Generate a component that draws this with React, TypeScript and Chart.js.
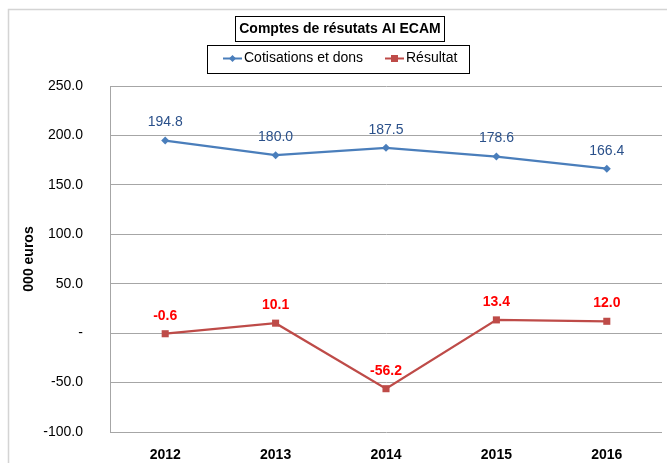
import React, { useEffect, useRef } from "react";
import { Chart, registerables } from "chart.js";

Chart.register(...registerables);

const categories = ["2012", "2013", "2014", "2015", "2016"];
const cotisations = [194.8, 180.0, 187.5, 178.6, 166.4];
const resultat = [-0.6, 10.1, -56.2, 13.4, 12.0];
const chartTitle = "Comptes de résutats AI ECAM";
const yAxisTitle = "000 euros";
const seriesNames = ["Cotisations et dons", "Résultat"];

const BLUE = "#4A7EBB";
const RED = "#BE4B48";
const FONT = "'Liberation Sans', Arial, sans-serif";

const decorPlugin = {
  id: "decor",
  afterDraw(chart: any) {
    const ctx = chart.ctx;
    ctx.save();
    // outer chart border
    ctx.strokeStyle = "#D4D4D4";
    ctx.lineWidth = 1.5;
    ctx.beginPath();
    ctx.moveTo(8.5, 470);
    ctx.lineTo(8.5, 9.5);
    ctx.lineTo(680, 9.5);
    ctx.stroke();

    // title with box
    ctx.font = `bold 14px ${FONT}`;
    ctx.fillStyle = "#000";
    ctx.textAlign = "center";
    ctx.textBaseline = "middle";
    const tcx = 340;
    const tw = ctx.measureText(chartTitle).width;
    ctx.fillText(chartTitle, tcx, 29);
    ctx.strokeStyle = "#000";
    ctx.lineWidth = 1;
    ctx.strokeRect(Math.round(tcx - tw / 2 - 4) + 0.5, 16.5, Math.round(tw + 8), 25);

    // legend with box
    ctx.strokeRect(207.5, 45.5, 262, 28);
    ctx.font = `14px ${FONT}`;
    ctx.textAlign = "left";
    const items = [
      { name: seriesNames[0], color: BLUE, style: "diamond", x: 223 },
      { name: seriesNames[1], color: RED, style: "square", x: 385 },
    ];
    items.forEach((it) => {
      const y = 58.5;
      ctx.strokeStyle = it.color;
      ctx.lineWidth = 2;
      ctx.beginPath();
      ctx.moveTo(it.x, y);
      ctx.lineTo(it.x + 19, y);
      ctx.stroke();
      ctx.fillStyle = it.color;
      const cx = it.x + 9.5;
      if (it.style === "diamond") {
        ctx.beginPath();
        ctx.moveTo(cx, y - 3.5);
        ctx.lineTo(cx + 3.5, y);
        ctx.lineTo(cx, y + 3.5);
        ctx.lineTo(cx - 3.5, y);
        ctx.closePath();
        ctx.fill();
      } else {
        ctx.fillRect(cx - 3.5, y - 3.5, 7, 7);
      }
      ctx.fillStyle = "#000";
      ctx.fillText(it.name, it.x + 21, y);
    });

    // data labels
    const cfg = [
      { idx: 0, color: "#2A508A", bold: false },
      { idx: 1, color: "#FF0000", bold: true },
    ];
    cfg.forEach((c) => {
      const meta = chart.getDatasetMeta(c.idx);
      const data = chart.data.datasets[c.idx].data as number[];
      ctx.font = `${c.bold ? "bold " : ""}14px ${FONT}`;
      ctx.fillStyle = c.color;
      ctx.textAlign = "center";
      ctx.textBaseline = "middle";
      meta.data.forEach((pt: any, i: number) => {
        ctx.fillText(data[i].toFixed(1), pt.x, pt.y - 18);
      });
    });
    ctx.restore();
  },
};

export default function App() {
  const ref = useRef<HTMLCanvasElement>(null);
  useEffect(() => {
    if (!ref.current) return;
    const chart = new Chart(ref.current, {
      type: "line",
      data: {
        labels: categories,
        datasets: [
          {
            label: seriesNames[0],
            data: cotisations,
            borderColor: BLUE,
            backgroundColor: BLUE,
            borderWidth: 2.25,
            pointStyle: "rectRot",
            pointRadius: 4,
            pointBorderWidth: 0,
            tension: 0,
          },
          {
            label: seriesNames[1],
            data: resultat,
            borderColor: RED,
            backgroundColor: RED,
            borderWidth: 2.25,
            pointStyle: "rect",
            pointRadius: 5,
            pointBorderWidth: 0,
            tension: 0,
          },
        ],
      },
      plugins: [decorPlugin],
      options: {
        animation: false,
        responsive: false,
        maintainAspectRatio: false,
        layout: { padding: { top: 86, right: 5, left: 0, bottom: 0 } },
        plugins: {
          legend: { display: false },
          title: { display: false },
          tooltip: { enabled: false },
        },
        scales: {
          x: {
            offset: true,
            grid: { display: false, drawTicks: false },
            border: { display: false },
            ticks: {
              padding: 15,
              color: "#000",
              font: { family: FONT, size: 14, weight: "bold" },
            },
            afterFit: (s: any) => {
              s.height = 31;
              s.paddingLeft = 0;
              s.paddingRight = 0;
            },
          },
          y: {
            min: -100,
            max: 250,
            grid: { color: "#A6A6A6", lineWidth: 1, drawTicks: false },
            border: { display: true, color: "#A6A6A6", width: 1 },
            ticks: {
              stepSize: 50,
              padding: 27,
              color: "#000",
              font: { family: FONT, size: 14 },
              callback: (v: any) => (Number(v) === 0 ? "-" : Number(v).toFixed(1)),
            },
            title: {
              display: true,
              text: yAxisTitle,
              color: "#000",
              font: { family: FONT, size: 14, weight: "bold" },
              padding: { top: 21, bottom: 0 },
            },
            afterFit: (s: any) => {
              s.width = 110;
              s.paddingTop = 0;
              s.paddingBottom = 0;
            },
          },
        },
      },
    });
    return () => chart.destroy();
  }, []);
  return (
    <div style={{ position: "fixed", left: 0, top: 0, width: 667, height: 463, background: "#fff" }}>
      <canvas ref={ref} width={667} height={463} style={{ display: "block" }} />
    </div>
  );
}
